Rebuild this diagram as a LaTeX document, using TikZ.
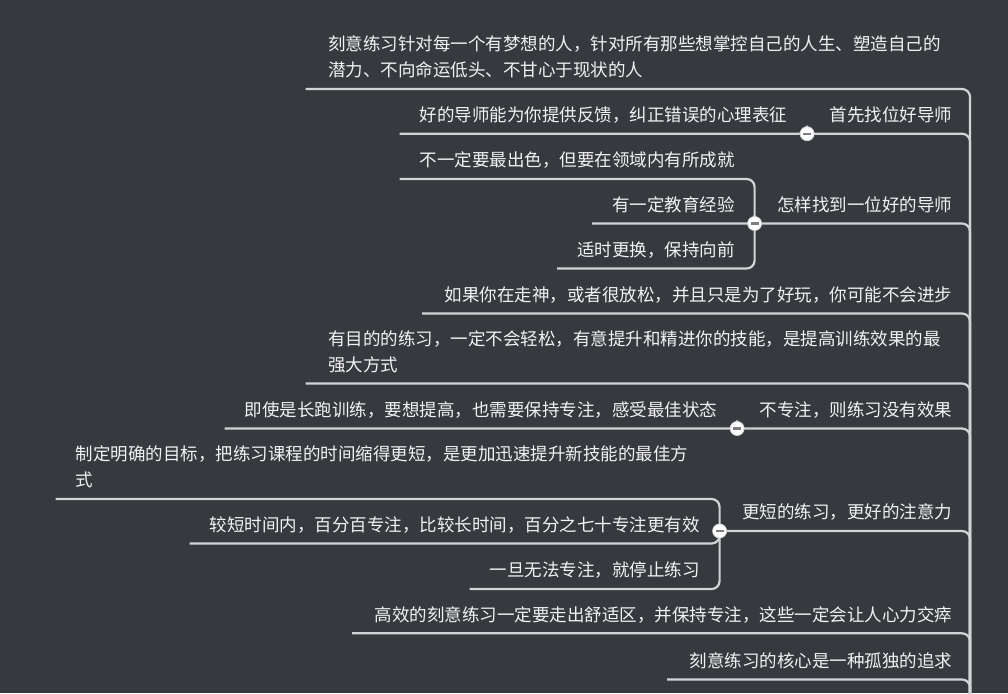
\documentclass[tikz,border=0pt]{standalone}
\usepackage{fontspec}
\setmainfont{Noto Sans CJK SC}
\definecolor{bgcol}{HTML}{36393E}
\definecolor{linecol}{HTML}{D2D3D5}
\definecolor{textcol}{HTML}{F2F2F2}
\definecolor{minuscol}{HTML}{7C7E82}

\begin{document}
\begin{tikzpicture}[x=1pt,y=-1pt,
  topicsty/.style={anchor=south east,text=textcol,inner xsep=22.5pt,inner ysep=12pt,
    text depth=0pt,font=\fontsize{17.5pt}{26pt}\selectfont},
  substy/.style={topicsty,inner xsep=20pt},
  widesty/.style={text width=624pt,align=left,text depth=26pt},
  linksty/.style={draw=linecol,line width=2.2pt,rounded corners=8pt},
  foldsty/.style={circle,fill=white,draw=linecol,line width=0.8pt,minimum size=14pt,inner sep=0pt,
    path picture={\draw[minuscol,line width=2.2pt]
      ([xshift=-4pt]path picture bounding box.center) -- ([xshift=4pt]path picture bounding box.center);}}]

  \fill[bgcol] (0,0) rectangle (1008,693);
  \useasboundingbox (0,0) rectangle (1008,693);
  \coordinate (root) at (970,720);

  \node[topicsty,widesty] (t1) at (975,89) {刻意练习针对每一个有梦想的人，针对所有那些想掌控自己的人生、塑造自己的\\潜力、不向命运低头、不甘心于现状的人};
  \node[topicsty] (t2) at (975,133.7) {首先找位好导师};
  \node[substy] (c2a) at (807.5,133.7) {好的导师能为你提供反馈，纠正错误的心理表征};

  \node[topicsty] (t3) at (975,223.5) {怎样找到一位好的导师};
  \node[substy] (c3a) at (755,179) {不一定要最出色，但要在领域内有所成就};
  \node[substy] (c3b) at (755,223.5) {有一定教育经验};
  \node[substy] (c3c) at (755,268.5) {适时更换，保持向前};

  \node[topicsty] (t4) at (975,313.5) {如果你在走神，或者很放松，并且只是为了好玩，你可能不会进步};
  \node[topicsty,widesty] (t5) at (975,383.5) {有目的的练习，一定不会轻松，有意提升和精进你的技能，是提高训练效果的最\\强大方式};

  \node[topicsty] (t6) at (975,428.5) {不专注，则练习没有效果};
  \node[substy] (c6a) at (737.5,428.5) {即使是长跑训练，要想提高，也需要保持专注，感受最佳状态};

  \node[topicsty] (t7) at (975,531) {更短的练习，更好的注意力};
  \node[substy,widesty] (c7a) at (720,499) {制定明确的目标，把练习课程的时间缩得更短，是更加迅速提升新技能的最佳方\\式};
  \node[substy] (c7b) at (720,543.5) {较短时间内，百分百专注，比较长时间，百分之七十专注更有效};
  \node[substy] (c7c) at (720,589) {一旦无法专注，就停止练习};

  \node[topicsty] (t8) at (975,633.3) {高效的刻意练习一定要走出舒适区，并保持专注，这些一定会让人心力交瘁};
  \node[topicsty] (t9) at (975,679.5) {刻意练习的核心是一种孤独的追求};

  \foreach \t in {t1,t2,t3,t4,t5,t6,t7,t8,t9}
    \draw[linksty] (\t.south west) -| (root);

  \draw[linksty] (t2.south west) |- (c2a.south west);
  \draw[linksty] (t3.south west) |- (c3a.south west);
  \draw[linksty] (t3.south west) |- (c3b.south west);
  \draw[linksty] (t3.south west) |- (c3c.south west);
  \draw[linksty] (t6.south west) |- (c6a.south west);
  \draw[linksty] (t7.south west) |- (c7a.south west);
  \draw[linksty] (t7.south west) |- (c7b.south west);
  \draw[linksty] (t7.south west) |- (c7c.south west);

  \node[foldsty] (f2) at (t2.south west) {};
  \node[foldsty] (f3) at (t3.south west) {};
  \node[foldsty] (f6) at (t6.south west) {};
  \node[foldsty] (f7) at (t7.south west) {};

\end{tikzpicture}
\end{document}
